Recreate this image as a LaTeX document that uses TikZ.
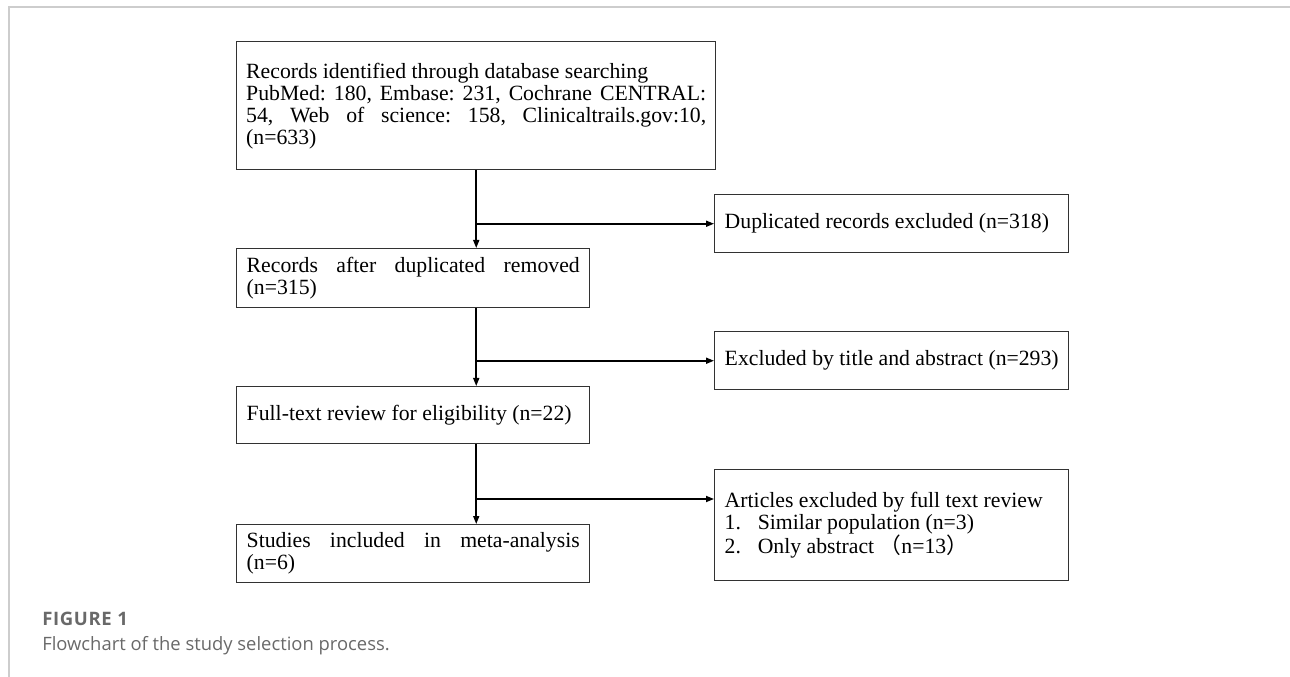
\documentclass[tikz,border=0pt]{standalone}
\usepackage{fontspec}
\setmainfont{Liberation Serif}
\newfontfamily\capfont{Open Sans}
\newfontfamily\capbold[LetterSpace=3.5]{Open Sans Bold}
\newfontfamily\cjk{Noto Sans CJK SC}
\usetikzlibrary{arrows.meta,calc}
\definecolor{framegray}{RGB}{205,205,205}
\definecolor{capgray}{RGB}{105,105,105}
\definecolor{boxline}{RGB}{50,50,50}
\newcommand{\fillA}[1]{\makebox[345pt][s]{#1}}
\newcommand{\fillB}[1]{\makebox[249.75pt][s]{#1}}
\newcommand{\boxfont}{\fontsize{16.3pt}{16.5pt}\selectfont\frenchspacing}
\begin{document}
\begin{tikzpicture}[x=0.75pt,y=-0.75pt,
  box/.style={draw=boxline, line width=1.1pt, anchor=north west,
    inner xsep=7.5pt, inner ysep=0pt, align=justify, font=\boxfont},
  wide/.style={minimum width=359.25pt, text width=345pt, inner xsep=7.125pt},
  narrow/.style={minimum width=264.75pt, text width=249.75pt},
  side/.style={minimum width=265.5pt, text width=250.5pt},
  arr/.style={draw=black, line width=1.2pt, -{Triangle[length=6pt,width=4.5pt]}},
  frameline/.style={draw=framegray, line width=1.1pt},
  capb/.style={anchor=base west, inner sep=0pt, text=capgray,
    font=\capbold\fontsize{13.9pt}{16pt}\selectfont},
  captext/.style={anchor=base west, inner sep=0pt, text=capgray,
    font=\capfont\fontsize{13.8pt}{16pt}\selectfont}]
\useasboundingbox (0,0) rectangle (1290,677);
% page frame
\draw[frameline] (9,677) -- (9,7) -- (1290,7);

% main column
\node[box, wide, minimum height=96pt] (A) at (236,41)
  {\mbox{Records identified through database searching}\\
   \fillA{PubMed: 180, Embase: 231, Cochrane CENTRAL:}\\
   \fillA{54, Web of science: 158, Clinicaltrails.gov:10,}\\
   (n=633)};
\node[box, narrow, minimum height=44.25pt] (B) at (236,248)
  {\fillB{Records after duplicated removed}\\(n=315)};
\node[box, narrow, minimum height=42.75pt] (C) at (236,386)
  {\mbox{Full-text review for eligibility (n=22)}};
\node[box, narrow, minimum height=43.5pt] (D) at (236,524)
  {\fillB{Studies included in meta-analysis}\\(n=6)};

% side column
\node[box, side, minimum height=43.5pt] (R1) at (714,194)
  {\mbox{Duplicated records excluded (n=318)}};
\node[box, side, minimum height=43.5pt] (R2) at (714,331)
  {\mbox{Excluded by title and abstract (n=293)}};
\node[box, side, minimum height=83.25pt] (R3) at (714,469)
  {\mbox{Articles excluded by full text review}\\
   \mbox{\makebox[1.52em][l]{1.}Similar population (n=3)}\\
   \mbox{\makebox[1.52em][l]{2.}Only abstract {\cjk （}n=13{\cjk ）}}};

% connectors
\draw[arr] (A.south) -- (B.north -| A.south);
\coordinate (j1) at (A.south |- R1.west);
\draw[arr] (j1) -- (R1.west);
\draw[arr] (B.south -| A.south) -- (C.north -| A.south);
\coordinate (j2) at (A.south |- R2.west);
\draw[arr] (j2) -- (R2.west);
\draw[arr] (C.south -| A.south) -- (D.north -| A.south);
\coordinate (j3) at ($(A.south |- R3.north)+(0,30)$);
\draw[arr] (j3) -- (j3 -| R3.west);

% caption
\node[capb] (cap1) at (42,625) {FIGURE 1};
\node[captext] (cap2) at (42,650) {Flowchart of the study selection process.};
\end{tikzpicture}
\end{document}
